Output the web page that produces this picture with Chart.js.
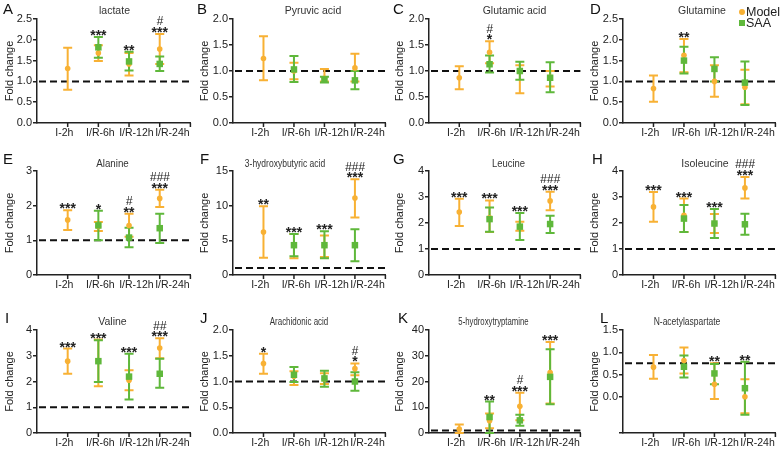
<!DOCTYPE html>
<html>
<head>
<meta charset="utf-8">
<script src="https://cdn.jsdelivr.net/npm/chart.js@4.4.1/dist/chart.umd.min.js"></script>
<style>
body { margin:0; background:#fff; width:784px; height:449px; overflow:hidden; position:relative; font-family:"Liberation Sans", Arial, sans-serif; }
canvas { position:absolute; }
.title { position:absolute; text-align:center; font-size:10.5px; color:#333; line-height:14px; white-space:nowrap; }
.letter { position:absolute; font-size:15px; color:#111; line-height:15px; }
.lg { position:absolute; font-size:12.5px; color:#222; line-height:14px; }
.dot { position:absolute; width:6px; height:6px; }
</style>
</head>
<body>
<script>
// categories and panel names
var categories = ["I-2h", "I/R-6h", "I/R-12h", "I/R-24h"];
var titles = ["lactate", "Pyruvic acid", "Glutamic acid", "Glutamine", "Alanine", "3-hydroxybutyric acid",
  "Leucine", "Isoleucine", "Valine", "Arachidonic acid", "5-hydroxytryptamine", "N-acetylaspartate"];
var letters = ["A","B","C","D","E","F","G","H","I","J","K","L"];

// Model group: mean and error bar ends, one row per panel
var modelMean = [
  [1.31, 1.68, 1.42, 1.78], [1.24, 1.0, 0.86, 1.06], [0.87, 1.36, 1.0, 0.88], [0.83, 1.63, 1.0, 0.86],
  [1.59, 1.4, 1.43, 2.21], [6.2, 4.3, 4.3, 11.1], [2.42, 2.2, 1.85, 2.85], [2.62, 2.3, 1.98, 3.35],
  [2.79, 2.8, 2.05, 3.3], [1.35, 1.1, 1.05, 1.25], [1.5, 4.8, 10.4, 23.5], [0.67, 0.82, 0.29, 0.01]
];
var modelHigh = [
  [1.81, 1.87, 1.68, 2.14], [1.67, 1.16, 1.04, 1.33], [1.09, 1.57, 1.11, 1.0], [1.14, 2.02, 1.39, 1.28],
  [1.87, 1.53, 1.77, 2.46], [9.9, 5.9, 5.7, 13.8], [2.93, 2.87, 2.05, 3.2], [3.19, 2.94, 2.35, 3.77],
  [3.28, 3.63, 2.44, 3.68], [1.54, 1.2, 1.16, 1.35], [3.3, 7.6, 15.6, 35.3], [0.94, 1.11, 0.76, 0.4]
];
var modelLow = [
  [0.8, 1.49, 1.14, 1.42], [0.82, 0.84, 0.8, 0.8], [0.65, 1.15, 0.57, 0.7], [0.51, 1.22, 0.63, 0.45],
  [1.3, 1.27, 1.1, 1.96], [2.5, 2.4, 2.6, 8.3], [1.88, 1.65, 1.7, 2.49], [2.05, 1.65, 1.62, 2.94],
  [2.3, 1.82, 1.66, 2.9], [1.15, 0.93, 0.95, 1.12], [0, 1.8, 5.0, 11.5], [0.41, 0.53, -0.04, -0.36]
];

// SAA group (no I-2h point)
var saaMean = [
  [null, 1.82, 1.48, 1.42], [null, 1.03, 0.84, 0.82], [null, 1.13, 1.0, 0.87], [null, 1.5, 1.3, 0.97],
  [null, 1.43, 1.08, 1.35], [null, 4.3, 4.3, 4.3], [null, 2.15, 1.86, 1.96], [null, 2.17, 1.98, 1.95],
  [null, 2.79, 2.19, 2.3], [null, 1.13, 1.06, 1.0], [null, 6.2, 4.9, 21.8], [null, 0.68, 0.53, 0.2]
];
var saaHigh = [
  [null, 2.07, 1.71, 1.6], [null, 1.29, 0.89, 1.0], [null, 1.3, 1.18, 1.17], [null, 1.83, 1.58, 1.48],
  [null, 1.85, 1.36, 1.77], [null, 5.9, 6.3, 6.6], [null, 2.6, 2.38, 2.28], [null, 2.69, 2.54, 2.36],
  [null, 3.6, 3.08, 2.88], [null, 1.28, 1.21, 1.18], [null, 12.2, 7.1, 32.5], [null, 0.93, 0.74, 0.79]
];
var saaLow = [
  [null, 1.57, 1.26, 1.25], [null, 0.79, 0.78, 0.65], [null, 0.97, 0.83, 0.59], [null, 1.19, 1.0, 0.43],
  [null, 1.0, 0.8, 0.92], [null, 2.7, 2.4, 2.0], [null, 1.66, 1.35, 1.62], [null, 1.65, 1.42, 1.55],
  [null, 1.98, 1.3, 1.76], [null, 0.99, 0.9, 0.82], [null, 0, 2.8, 11.2], [null, 0.44, 0.29, -0.39]
];

// significance marks
var stars = [
  ["", "***", "**", "***"], ["", "", "", ""], ["", "*", "", ""], ["", "**", "", ""],
  ["***", "*", "**", "***"], ["**", "***", "***", "***"], ["***", "***", "***", "***"], ["***", "***", "***", "***"],
  ["***", "***", "***", "***"], ["*", "", "", "*"], ["", "**", "***", "***"], ["", "", "**", "**"]
];
var hashes = [
  ["", "", "", "#"], ["", "", "", ""], ["", "#", "", ""], ["", "", "", ""],
  ["", "", "#", "###"], ["", "", "", "###"], ["", "", "", "###"], ["", "", "", "###"],
  ["", "", "", "##"], ["", "", "", "#"], ["", "", "#", ""], ["", "", "", ""]
];

// y axes
var yMin = [0, 0, 0, 0, 0, 0, 0, 0, 0, 0, 0, -0.8];
var yMax = [2.5, 2, 2, 2.5, 3, 15, 4, 4, 4, 2, 40, 1.5];
var yStep = [0.5, 0.5, 0.5, 0.5, 1, 5, 1, 1, 1, 0.5, 10, 0.5];
var yDigits = [1, 1, 1, 1, 0, 0, 0, 0, 0, 1, 0, 1];
var refLine = [1, 1, 1, 1, 1, 1, 1, 1, 1, 1, 1, 0.76];

// layout
var orange = "#f8b134", green = "#5fb83b";
var colX = [0, 195, 390, 585];
var rowY = [0, 148, 298];
var rowH = [148, 150, 151];
var plotTop = [19, 23, 32];
var plotBottom = [123, 127, 135];
var axisW = [37, 38, 39, 38];
var titleY = [3, 8, 16];
var titleShift = [0, 3, 9, 2, -2, -25, 3, 5, -2, -11, -12, -13];
var titleSquash = [1, 1, 1, 1, 0.93, 0.81, 0.9, 1, 1, 0.76, 0.74, 0.81];
var letterPos = [[3,1],[197,1],[393,1],[590,1],[3,151],[200,151],[393,151],[592,151],[5,310],[200,310],[398,310],[600,310]];
var FONT = '"Liberation Sans", Arial, sans-serif';

function points(arr) {
  var out = [];
  for (var i = 0; i < arr.length; i++) {
    if (arr[i] !== null) out.push({x: i + 1, y: arr[i]});
  }
  return out;
}

function drawBars(ctx, xs, ys, hi, lo, color) {
  ctx.strokeStyle = color;
  ctx.lineWidth = 2;
  for (var i = 0; i < hi.length; i++) {
    if (hi[i] === null) continue;
    var px = xs.getPixelForValue(i + 1);
    var top = ys.getPixelForValue(hi[i]), bot = ys.getPixelForValue(lo[i]);
    ctx.beginPath();
    ctx.moveTo(px, top); ctx.lineTo(px, bot);
    ctx.moveTo(px - 4.5, top); ctx.lineTo(px + 4.5, top);
    ctx.moveTo(px - 4.5, bot); ctx.lineTo(px + 4.5, bot);
    ctx.stroke();
  }
}

// group tick marks, error bars, dashed reference line and the star / hash marks
var errorBars = {
  id: "errorBars",
  beforeDatasetsDraw: function(chart, args, opts) {
    var p = opts.panel, ctx = chart.ctx, xs = chart.scales.xd, ys = chart.scales.y, area = chart.chartArea;
    ctx.save();
    ctx.strokeStyle = "#222";
    ctx.lineWidth = 1.5;
    ctx.beginPath();
    for (var k = 1; k <= 5; k++) {
      var tx = xs.getPixelForValue(k);
      ctx.moveTo(tx, area.bottom); ctx.lineTo(tx, area.bottom + 4);
    }
    ctx.stroke();
    ctx.strokeStyle = "#111";
    ctx.lineWidth = 2;
    ctx.setLineDash([7, 4]);
    var ry = ys.getPixelForValue(refLine[p]);
    ctx.beginPath(); ctx.moveTo(area.left + 2, ry); ctx.lineTo(area.right, ry); ctx.stroke();
    ctx.setLineDash([]);
    drawBars(ctx, xs, ys, modelHigh[p], modelLow[p], orange);
    drawBars(ctx, xs, ys, saaHigh[p], saaLow[p], green);
    ctx.restore();
  },
  afterDatasetsDraw: function(chart, args, opts) {
    var p = opts.panel, ctx = chart.ctx, xs = chart.scales.xd, ys = chart.scales.y;
    ctx.save();
    ctx.fillStyle = "#222";
    ctx.textAlign = "center";
    ctx.textBaseline = "alphabetic";
    for (var i = 0; i < 4; i++) {
      if (!stars[p][i]) continue;
      var t = modelHigh[p][i];
      if (saaHigh[p][i] !== null && saaHigh[p][i] > t) t = saaHigh[p][i];
      var px = xs.getPixelForValue(i + 1), ty = ys.getPixelForValue(t);
      ctx.font = "bold 14px " + FONT;
      ctx.fillText(stars[p][i], px, ty + 3);
      if (hashes[p][i]) {
        ctx.font = "italic 12px " + FONT;
        ctx.fillText(hashes[p][i], px, ty - 8.5);
      }
    }
    ctx.restore();
  }
};

Chart.defaults.font.family = FONT;
Chart.defaults.color = "#222";

for (var p = 0; p < 12; p++) {
  var col = p % 4, row = Math.floor(p / 4);
  var cv = document.createElement("canvas");
  cv.width = 195; cv.height = rowH[row];
  cv.style.left = colX[col] + "px";
  cv.style.top = rowY[row] + "px";
  cv.style.width = "195px";
  cv.style.height = rowH[row] + "px";
  document.body.appendChild(cv);

  var t = document.createElement("div");
  t.className = "title";
  t.textContent = titles[p];
  t.style.left = (colX[col] + axisW[col] + titleShift[p]) + "px";
  t.style.width = (195 - axisW[col] - 3) + "px";
  t.style.top = (rowY[row] + titleY[row]) + "px";
  t.style.transform = "scaleX(" + titleSquash[p] + ")";
  document.body.appendChild(t);

  var l = document.createElement("div");
  l.className = "letter";
  l.textContent = letters[p];
  l.style.left = letterPos[p][0] + "px";
  l.style.top = letterPos[p][1] + "px";
  document.body.appendChild(l);

  (function(p, col, row) {
    new Chart(cv, {
      type: "scatter",
      data: {
        datasets: [
          { label: "SAA", data: points(saaMean[p]), xAxisID: "xd", pointStyle: "rect", pointRadius: 4.6, pointBorderWidth: 0,
            backgroundColor: green, borderColor: green, order: 0 },
          { label: "Model", data: points(modelMean[p]), xAxisID: "xd", pointStyle: "circle", pointRadius: 2.8, pointBorderWidth: 0,
            backgroundColor: orange, borderColor: orange, order: 1 }
        ]
      },
      options: {
        responsive: false,
        maintainAspectRatio: false,
        animation: false,
        events: [],
        clip: false,
        layout: { padding: { top: plotTop[row], right: 3, left: 0, bottom: 0 } },
        plugins: { legend: { display: false }, tooltip: { enabled: false }, errorBars: { panel: p } },
        scales: {
          // hidden axis the points sit on
          xd: { type: "linear", display: false, min: 0, max: 5 },
          // visible axis line with group labels, spread a little wider as in the figure
          x: {
            type: "linear", position: "bottom", min: 0.24, max: 4.5,
            afterBuildTicks: function(s) { s.ticks = [1, 2, 3, 4].map(function(v) { return {value: v}; }); },
            afterFit: function(s) { s.height = rowH[row] - plotBottom[row]; },
            ticks: { autoSkip: false, maxRotation: 0, padding: 4, color: "#222", font: { size: 10.5 },
              callback: function(v) { return categories[v - 1] || ""; } },
            grid: { display: false, drawTicks: false, tickLength: 0 },
            border: { display: true, color: "#222", width: 1.5 }
          },
          y: {
            min: yMin[p], max: yMax[p],
            afterBuildTicks: function(s) {
              var vals = [];
              if (yMin[p] < 0) vals.push(yMin[p]);
              for (var v = 0; v <= yMax[p] + 1e-9; v += yStep[p]) vals.push(Math.round(v * 100) / 100);
              s.ticks = vals.map(function(v) { return {value: v}; });
            },
            afterFit: function(s) { s.width = axisW[col]; },
            ticks: { padding: 1, color: "#222", font: { size: 11 },
              callback: function(v) { return v < 0 ? "" : v.toFixed(yDigits[p]); } },
            grid: { drawOnChartArea: false, drawTicks: true, tickLength: 4, color: "#222", lineWidth: 1.5 },
            border: { display: true, color: "#222", width: 1.5 },
            title: { display: true, text: "Fold change", color: "#222", font: { size: 11 }, padding: { top: 3, bottom: 0 } }
          }
        }
      },
      plugins: [errorBars]
    });
  })(p, col, row);
}

// legend in panel D
var lgItems = [["Model", orange, "50%", 9], ["SAA", green, "0", 20]];
lgItems.forEach(function(it) {
  var d = document.createElement("div");
  d.className = "dot";
  d.style.background = it[1];
  d.style.borderRadius = it[2];
  d.style.left = "739px";
  d.style.top = it[3] + "px";
  document.body.appendChild(d);
  var s = document.createElement("div");
  s.className = "lg";
  s.textContent = it[0];
  s.style.left = "746px";
  s.style.top = (it[3] - 4) + "px";
  document.body.appendChild(s);
});
</script>
</body>
</html>
